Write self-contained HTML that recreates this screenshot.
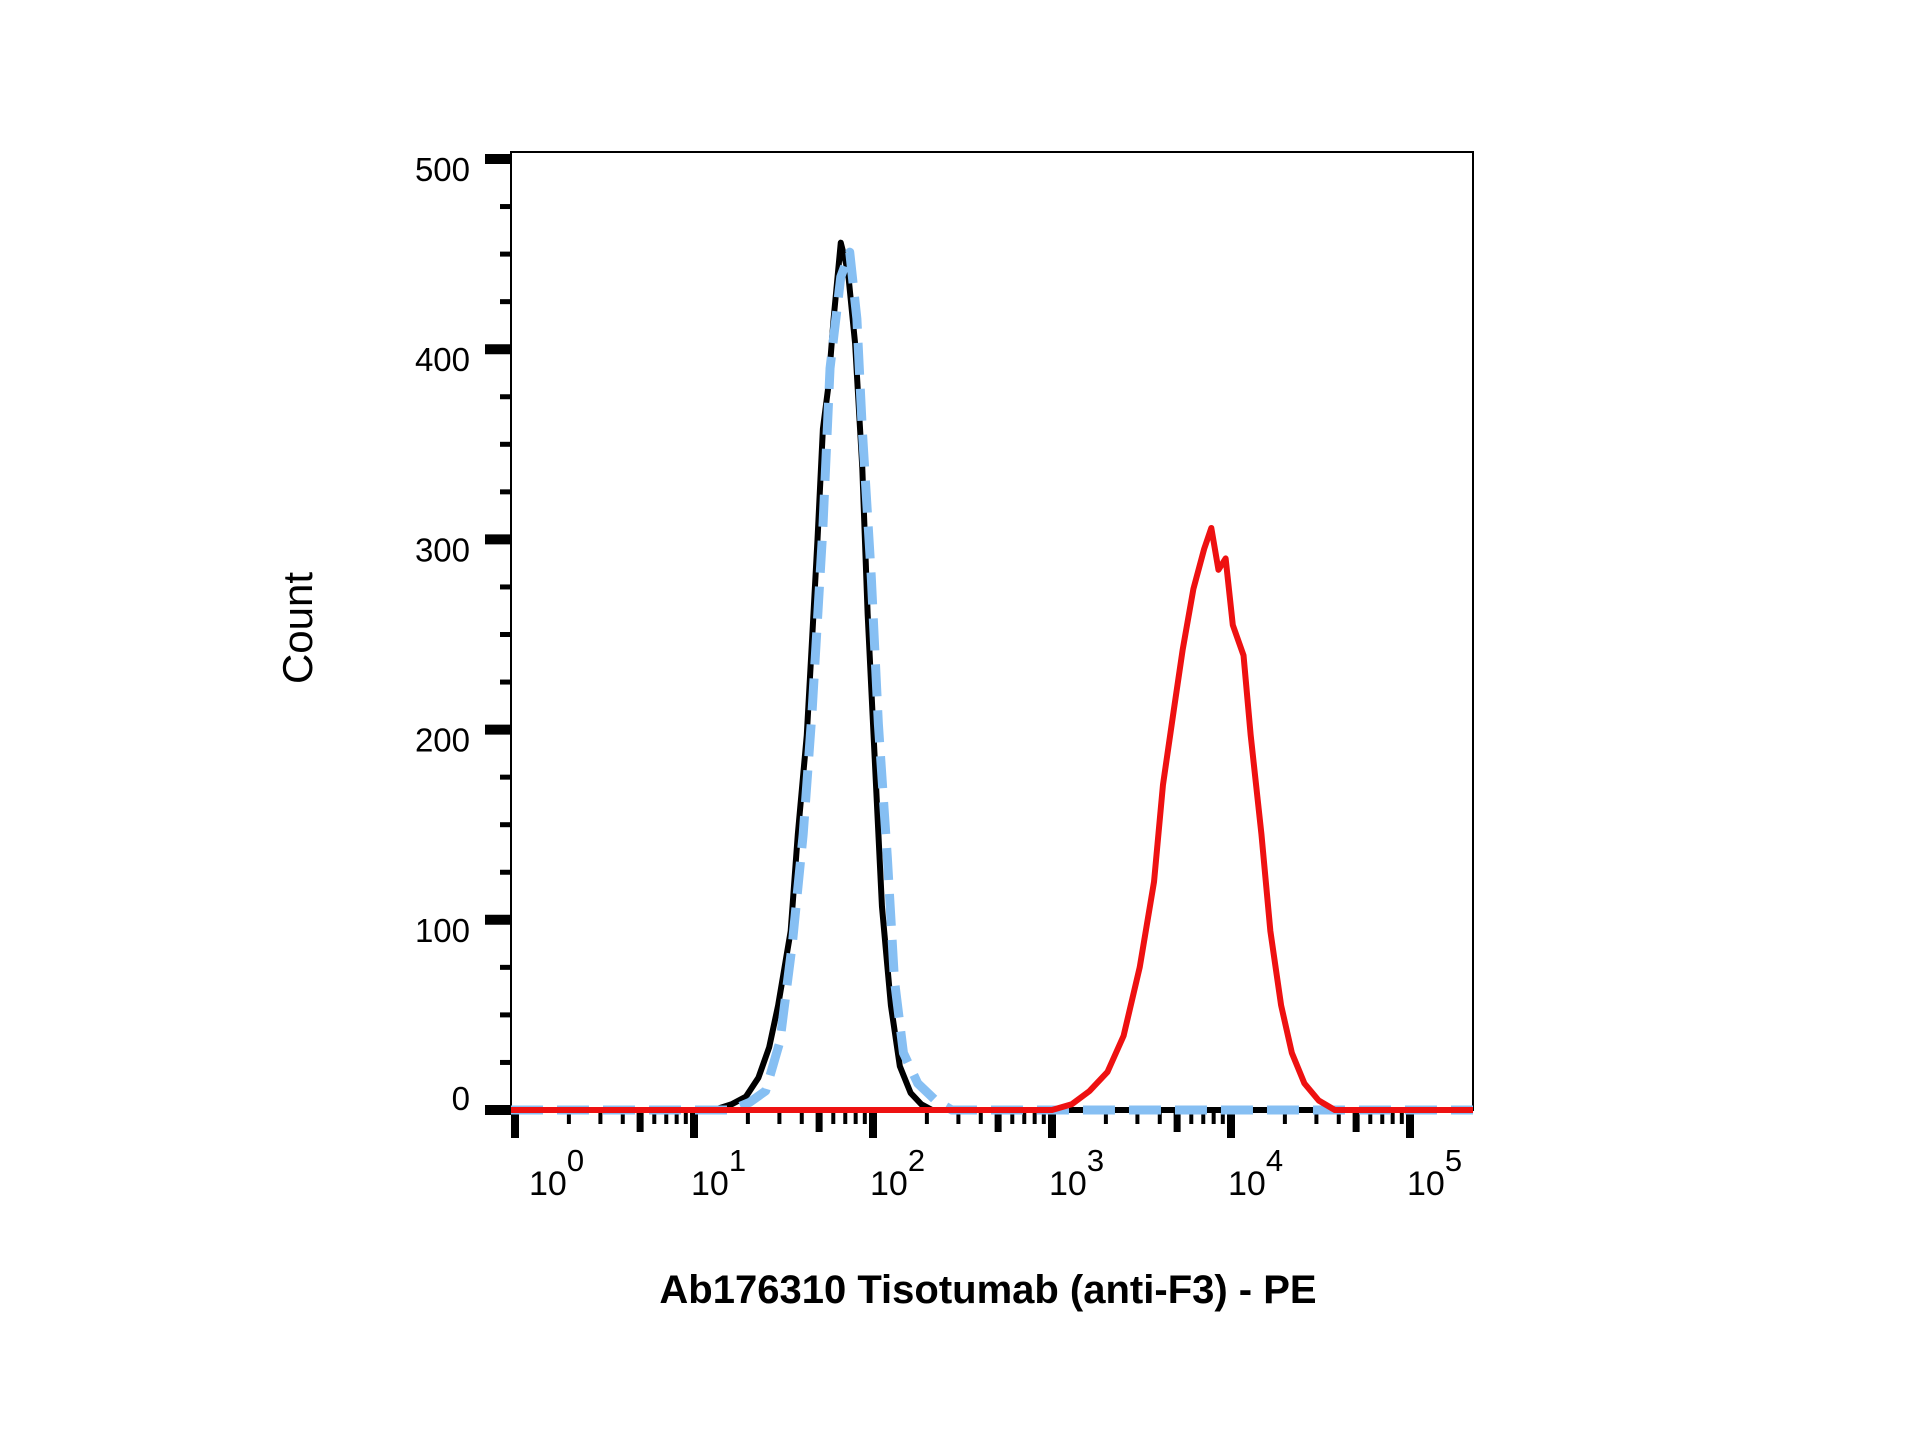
<!DOCTYPE html>
<html><head><meta charset="utf-8"><style>
body{margin:0;background:#fff;}
svg{display:block;font-family:"Liberation Sans",Arial,sans-serif;}
</style></head><body>
<svg id="chart" width="1920" height="1440" viewBox="0 0 1920 1440" xmlns="http://www.w3.org/2000/svg">
<rect width="1920" height="1440" fill="#fff"/>
<text transform="translate(312,628) rotate(-90)" text-anchor="middle" font-size="42">Count</text>
<text x="988" y="1303" text-anchor="middle" font-size="40" font-weight="bold">Ab176310 Tisotumab (anti-F3) - PE</text>
<g id="plot"></g>
</svg>
<script>
const yTicks=[0,100,200,300,400,500];
const xDecades=[0,1,2,3,4,5];
const blackLog=[1.11,1.21,1.29,1.36,1.42,1.47,1.54,1.58,1.63,1.66,1.69,1.72,1.75,1.78,1.82,1.86,1.90,1.94,1.97,2.01,2.05,2.10,2.15,2.21,2.27,2.33];
const blackCount=[0,3,7,17,33,55,94,145,197,248,300,358,380,416,456,441,403,338,261,184,107,55,23,9,3,0];
const blueLog=[1.21,1.31,1.40,1.48,1.55,1.61,1.66,1.72,1.76,1.82,1.87,1.91,1.94,1.99,2.03,2.08,2.12,2.17,2.25,2.35,2.44];
const blueCount=[0,4,10,36,88,145,210,306,390,438,451,416,358,281,203,133,68,30,14,5,0];
const redLog=[3.0,3.11,3.21,3.31,3.40,3.49,3.57,3.62,3.68,3.73,3.79,3.85,3.89,3.93,3.97,4.01,4.07,4.11,4.17,4.22,4.28,4.34,4.41,4.49,4.58];
const redCount=[0,3,10,20,39,75,120,171,210,242,274,295,306,284,290,255,239,197,145,94,55,30,14,5,0];

const L=511,R=1473,T=152,B=1110;
const X0=515,DEC=179;
const xs=v=>X0+v*DEC;
const ys=c=>B-c*(B-159)/500;
const NS="http://www.w3.org/2000/svg";
const g=document.getElementById('plot');
function mk(t,a){const e=document.createElementNS(NS,t);for(const k in a)e.setAttribute(k,a[k]);g.appendChild(e);return e;}

const frame=mk('rect',{x:L,y:T,width:R-L,height:B-T,fill:'none',stroke:'#000','stroke-width':2});



for(let v=0;v<=500;v+=25){
  const major=v%100===0;
  const t=mk('line',{x1:major?485:500,x2:L,y1:ys(v),y2:ys(v),stroke:'#000','stroke-width':major?10:5});
  
  
}
yTicks.forEach(v=>{
  const t=mk('text',{x:470,y:ys(v)+(v===0?0:22),'text-anchor':'end','font-size':33});
  t.textContent=v;
  
  
});
xDecades.forEach((d,i)=>{
  const t=mk('line',{x1:xs(d),x2:xs(d),y1:B,y2:1138,stroke:'#000','stroke-width':8});
  
  
  if(d<5){for(let m=2;m<=9;m++){
    const x=xs(d+Math.log10(m));
    const mt=mk('line',{x1:x,x2:x,y1:B,y2:m===5?1132:1124,stroke:'#000','stroke-width':m===5?7:4});
    
    
  }}
  const lb=mk('text',{x:xs(d)+(d===0?14:-3),y:1195,'font-size':34});
  
  
  lb.innerHTML='10<tspan dy="-24" font-size="31">'+d+'</tspan>';
});
function series(lg,ct,name,attrs){
  let pts=[[L,B]];
  lg.forEach((v,i)=>pts.push([xs(v),ys(ct[i])]));
  pts.push([R,B]);
  const p=mk('polyline',Object.assign({points:pts.map(p=>p.join(',')).join(' '),fill:'none','stroke-linejoin':'round'},attrs));
  
  
}
series(blackLog,blackCount,'isotype-control-black',{stroke:'#000','stroke-width':6});
series(blueLog,blueCount,'unstained-control-blue-dashed',{stroke:'#86bff3','stroke-width':9,'stroke-dasharray':'32 14'});
series(redLog,redCount,'tisotumab-pe-red',{stroke:'#ee1111','stroke-width':6});
</script>
</body></html>
